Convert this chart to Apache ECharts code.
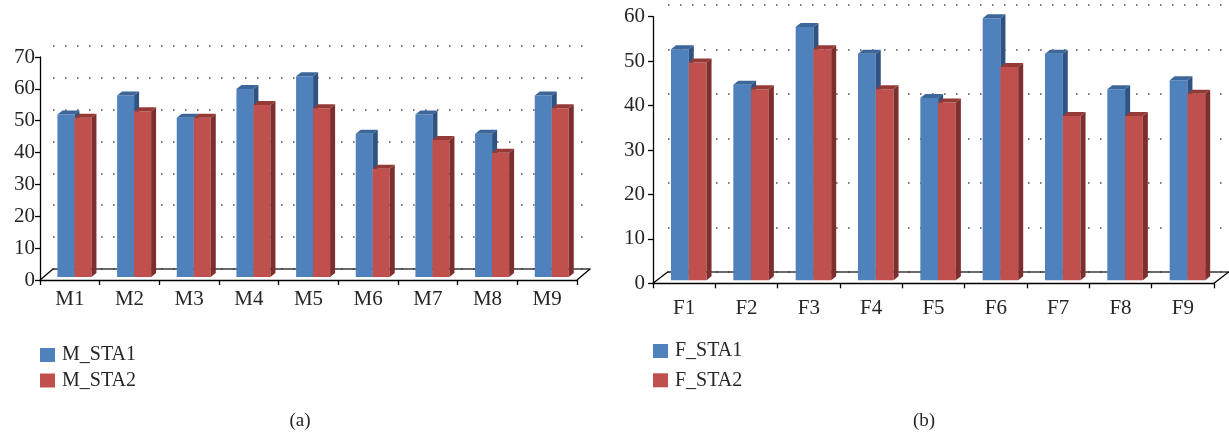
<!DOCTYPE html>
<html><head><meta charset="utf-8">
<script src="https://cdn.jsdelivr.net/npm/echarts@6/dist/echarts.min.js"></script>
<style>html,body{margin:0;padding:0;background:#fff}#c{width:1229px;height:434px}</style>
</head><body><div id="c"></div>
<script>
// ---- data ----
const mCategories = ['M1','M2','M3','M4','M5','M6','M7','M8','M9'];
const mSta1 = [51,57,50,59,63,45,51,45,57];
const mSta2 = [50,52,50,54,53,34,43,39,53];
const fCategories = ['F1','F2','F3','F4','F5','F6','F7','F8','F9'];
const fSta1 = [52,44,57,51,41,59,51,43,45];
const fSta2 = [49,43,52,43,40,48,37,37,42];
const mAxis = {min:0, max:70, interval:10};
const fAxis = {min:0, max:60, interval:10};
const mNames = ['M_STA1','M_STA2'];
const fNames = ['F_STA1','F_STA2'];
const captions = ['(a)','(b)'];

// ---- styles ----
const FONT = '"Liberation Serif", "Times New Roman", serif';
const TXT = '#262626';
const BLUE = {front:'#4F81BD', top:'#3D679A', side:'#2F5382'};
const RED = {front:'#C0504D', top:'#963A38', side:'#7E2F2D'};

function bar3d(pos, colors, offset, frac, depth) {
  return function (params, api) {
    const idx = api.value(0), v = api.value(1);
    const base = api.coord([idx, 0]);
    const top = api.coord([idx, v]);
    const w = api.size([1, 0])[0] * frac;
    const x0 = base[0] + offset[0] + (pos === 0 ? -w : 0);
    const yb = base[1] + offset[1];
    const yt = top[1] + offset[1];
    const dx = depth[0], dy = depth[1];
    return {type:'group', children:[
      {type:'rect', shape:{x:x0, y:yt, width:w, height:yb-yt}, style:{fill:colors.front}},
      {type:'polygon', shape:{points:[[x0,yt],[x0+w,yt],[x0+w+dx,yt+dy],[x0+dx,yt+dy]]}, style:{fill:colors.top}},
      {type:'polygon', shape:{points:[[x0+w,yt],[x0+w+dx,yt+dy],[x0+w+dx,yb+dy],[x0+w,yb]]}, style:{fill:colors.side}}
    ]};
  };
}
function floor(back) {
  return function (params, api) {
    const c = params.coordSys;
    const yb = c.y + c.height;
    return {type:'group', children:[
      {type:'line', shape:{x1:c.x, y1:yb, x2:c.x+back[0], y2:yb+back[1]}, style:{stroke:'#000', lineWidth:1.3}},
      {type:'line', shape:{x1:c.x+c.width, y1:yb, x2:c.x+c.width+back[0], y2:yb+back[1]}, style:{stroke:'#000', lineWidth:1.3}}
    ]};
  };
}

const grids = [
  {left:40, top:57, width:537, height:223},
  {left:53, top:45.7, width:537, height:223.3},
  {left:653, top:16.7, width:561, height:266.6},
  {left:668, top:5.2, width:561, height:266.6}
];
function frontX(cats, gi, margin) {
  return {type:'category', data:cats, gridIndex:gi, boundaryGap:true,
    axisLine:{show:true, lineStyle:{color:'#000', width:1.3}},
    axisTick:{show:true, alignWithLabel:false, length:5, lineStyle:{color:'#000', width:1.3}},
    axisLabel:{fontFamily:FONT, fontSize:21, color:TXT, margin:margin},
    splitLine:{show:false}};
}
function backX(cats, gi) {
  return {type:'category', data:cats, gridIndex:gi, boundaryGap:true,
    axisLine:{show:true, lineStyle:{color:'#3a3a3a', width:1.5}},
    axisTick:{show:false}, axisLabel:{show:false}, splitLine:{show:false}};
}
function frontY(ax, gi, margin) {
  return {type:'value', gridIndex:gi, min:ax.min, max:ax.max, interval:ax.interval,
    axisLine:{show:true, lineStyle:{color:'#000', width:1.3}},
    axisTick:{show:true, length:5, lineStyle:{color:'#000', width:1.3}},
    axisLabel:{fontFamily:FONT, fontSize:21, color:TXT, margin:margin},
    splitLine:{show:false}};
}
function backY(ax, gi) {
  return {type:'value', gridIndex:gi, min:ax.min, max:ax.max, interval:ax.interval,
    axisLine:{show:false}, axisTick:{show:false}, axisLabel:{show:false},
    splitLine:{show:true, lineStyle:{color:'#555', width:1.6, type:[1.6,10.4]}}};
}
function seriesFor(name, vals, gi, pos, colors) {
  return {type:'custom', name:name, xAxisIndex:gi, yAxisIndex:gi, z:5,
    itemStyle:{color:colors.front},
    encode:{x:0, y:1},
    data: vals.map((v,i)=>[i,v]),
    renderItem: bar3d(pos, colors, [4.6,-3], 0.285, [5,-4])};
}

const option = {
  animation:false,
  backgroundColor:'#fff',
  grid: grids.map(g=>Object.assign({containLabel:false}, g)),
  xAxis:[frontX(mCategories,0,9), backX(mCategories,1), frontX(fCategories,2,15), backX(fCategories,3)],
  yAxis:[frontY(mAxis,0,5), backY(mAxis,1), frontY(fAxis,2,8), backY(fAxis,3)],
  legend:[
    {data:mNames, orient:'vertical', left:40, top:345, padding:0, icon:'rect', itemWidth:15, itemHeight:14, itemGap:5.5,
      textStyle:{fontFamily:FONT, fontSize:20, color:TXT, padding:[0,0,0,2]}, selectedMode:false},
    {data:fNames, orient:'vertical', left:653, top:341, padding:0, icon:'rect', itemWidth:15, itemHeight:14, itemGap:9.3,
      textStyle:{fontFamily:FONT, fontSize:20, color:TXT, padding:[0,0,0,2]}, selectedMode:false}
  ],
  graphic:[
    {type:'text', x:300, y:421, style:{text:captions[0], font:'19px '+FONT, fill:TXT, textAlign:'center', textVerticalAlign:'middle'}},
    {type:'text', x:924, y:421, style:{text:captions[1], font:'19px '+FONT, fill:TXT, textAlign:'center', textVerticalAlign:'middle'}}
  ],
  series:[
    {type:'custom', name:'floorM', xAxisIndex:0, yAxisIndex:0, data:[[0,0]], encode:{x:0,y:1}, renderItem:floor([13,-11]), z:3, silent:true},
    {type:'custom', name:'floorF', xAxisIndex:2, yAxisIndex:2, data:[[0,0]], encode:{x:0,y:1}, renderItem:floor([15,-11.5]), z:3, silent:true},
    seriesFor(mNames[0], mSta1, 0, 0, BLUE),
    seriesFor(mNames[1], mSta2, 0, 1, RED),
    seriesFor(fNames[0], fSta1, 2, 0, BLUE),
    seriesFor(fNames[1], fSta2, 2, 1, RED)
  ]
};
const chart = echarts.init(document.getElementById('c'), null, {renderer:'canvas'});
chart.setOption(option);
</script></body></html>
